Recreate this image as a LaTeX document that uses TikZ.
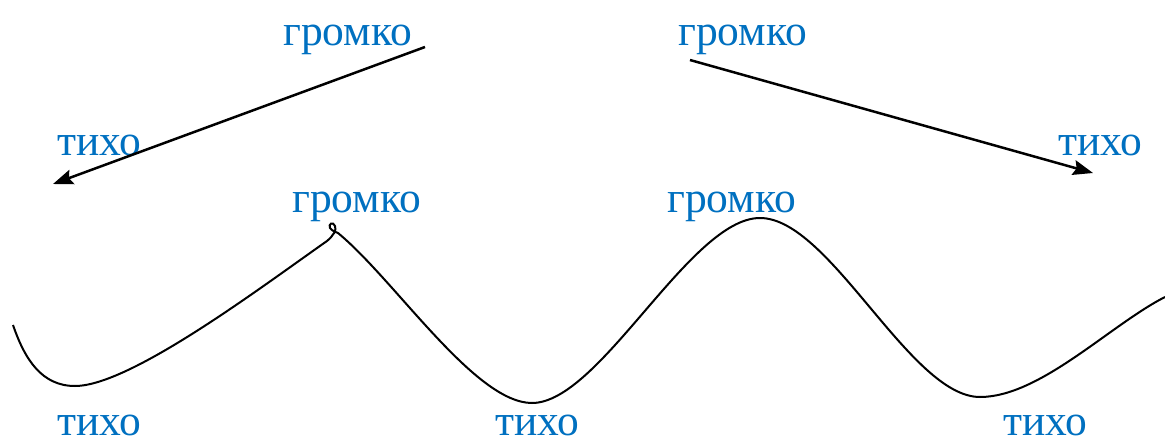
\documentclass[tikz,border=0pt]{standalone}
\usepackage{fontspec}
\setmainfont{Liberation Serif}
\usetikzlibrary{arrows.meta}
\definecolor{wordblue}{HTML}{0070C0}
\tikzset{
  word/.style={text=wordblue, font=\fontsize{43.5}{48}\selectfont, inner sep=0pt, anchor=base west},
  arrowline/.style={line width=2.5pt, -{Stealth[length=20pt,width=15pt,inset=3pt]}},
  wave/.style={line width=2pt}
}
\begin{document}
\begin{tikzpicture}[x=1pt,y=-1pt]
\useasboundingbox (0,0) rectangle (1165,439);
% words
\node[word] (g1) at (283,45) {громко};
\node[word] (g2) at (678,45) {громко};
\node[word] (t1) at (57,155) {тихо};
\node[word] (t2) at (1058,155) {тихо};
\node[word] (g3) at (292,212) {громко};
\node[word] (g4) at (667,212) {громко};
\node[word] (t3) at (57,435) {тихо};
\node[word] (t4) at (495,435) {тихо};
\node[word] (t5) at (1003,435) {тихо};
% arrows
\coordinate (a1s) at (425,47);
\coordinate (a1e) at (53,184);
\coordinate (a2s) at (690,60);
\coordinate (a2e) at (1093,173);
\draw[arrowline] (a1s) -- (a1e);
\draw[arrowline] (a2s) -- (a2e);
% wave
\coordinate (w0) at (13,325);
\coordinate (w1) at (75,386);
\coordinate (w2) at (327,241);
\coordinate (w3) at (338,233);
\coordinate (w4) at (532,403);
\coordinate (w5) at (760,218);
\coordinate (w6) at (980,397);
\coordinate (w7) at (1165,297);
\draw[wave] (w0) .. controls (25,360) and (42,386) .. (w1)
  .. controls (130,386) and (260,288) .. (w2)
  .. controls (333,236) and (337,230) .. (335,226)
  .. controls (333,221) and (328,224) .. (330,228)
  .. controls (332,231) and (336,232) .. (w3)
  .. controls (395,280) and (475,403) .. (w4)
  .. controls (600,403) and (690,218) .. (w5)
  .. controls (830,218) and (910,397) .. (w6)
  .. controls (1040,397) and (1110,325) .. (w7);
\end{tikzpicture}
\end{document}
